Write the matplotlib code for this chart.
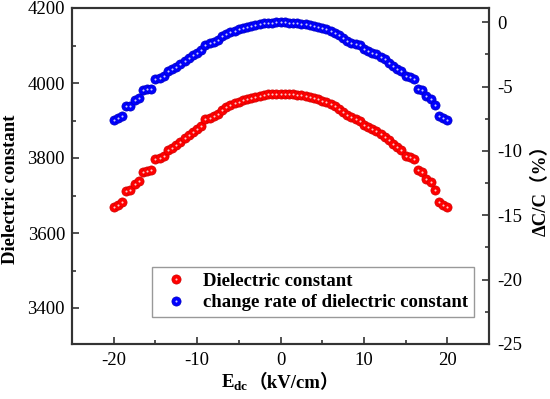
import matplotlib
matplotlib.use("Agg")
import matplotlib.pyplot as plt
from matplotlib.lines import Line2D
from matplotlib.ticker import MultipleLocator

plt.rcParams['font.family'] = ['Liberation Serif', 'Noto Sans CJK SC']
plt.rcParams['mathtext.fontset'] = 'custom'
plt.rcParams['mathtext.rm'] = 'Liberation Serif'
plt.rcParams['mathtext.bf'] = 'Liberation Serif:bold'
plt.rcParams['axes.unicode_minus'] = False

# ---- data ----
field = [x * 0.5 for x in range(-40, 41)]  # kV/cm, -20 .. 20

dielectric = [
    3669, 3675, 3682, 3713, 3714, 3731, 3739, 3762, 3765, 3767,
    3797, 3801, 3805, 3821, 3827, 3835, 3842, 3853, 3861, 3870,
    3877, 3886, 3903, 3907, 3912, 3917, 3928, 3935, 3941, 3946,
    3950, 3954, 3957, 3961, 3964, 3966, 3968, 3970, 3971, 3972,
    3972,
    3972, 3971, 3970, 3969, 3967, 3965, 3963, 3960, 3957, 3953,
    3950, 3945, 3939, 3931, 3922, 3914, 3909, 3905, 3900, 3888,
    3884, 3877, 3873, 3863, 3857, 3847, 3838, 3829, 3822, 3806,
    3802, 3797, 3767, 3764, 3744, 3735, 3715, 3682, 3676, 3669,
]

change_rate = [
    -7.63, -7.48, -7.30, -6.52, -6.50, -6.07, -5.87, -5.29, -5.21, -5.16,
    -4.41, -4.31, -4.20, -3.80, -3.65, -3.45, -3.27, -3.00, -2.79, -2.57,
    -2.39, -2.17, -1.74, -1.64, -1.51, -1.38, -1.11, -0.93, -0.78, -0.65,
    -0.55, -0.45, -0.38, -0.28, -0.20, -0.15, -0.10, -0.05, -0.03, 0.00,
    0.00,
    0.00, -0.03, -0.05, -0.08, -0.13, -0.18, -0.23, -0.30, -0.38, -0.48,
    -0.55, -0.68, -0.83, -1.03, -1.26, -1.46, -1.59, -1.69, -1.81, -2.11,
    -2.22, -2.39, -2.49, -2.74, -2.90, -3.15, -3.37, -3.60, -3.78, -4.18,
    -4.28, -4.41, -5.16, -5.24, -5.74, -5.97, -6.47, -7.30, -7.45, -7.63,
]

label_left = "Dielectric constant"
label_right = "ΔC/C（%）"
xlabel_var = r'$\mathbf{E}_{\mathbf{dc}}$'
xlabel_unit = '（kV/cm）'
legend_labels = ["Dielectric constant", "change rate of dielectric constant"]

# ---- figure ----
W, H = 550, 399
fig = plt.figure(figsize=(5.5, 3.99), dpi=100)
ax = fig.add_axes([72/W, 1-344/H, (489-72)/W, (344-8)/H])
ax2 = ax.twinx()

spine_col = '#333333'
ms = 6.6
hl = 1.5

def sphere(a, x, y, col, edge):
    a.plot(x, y, 'o', ms=ms, color=col, mec=edge, mew=0.5, ls='none', zorder=3)
    a.plot(x, y, 'o', ms=hl, color='white', mec='none', ls='none', alpha=0.8, zorder=4)

sphere(ax, field, dielectric, '#ff0000', '#d00000')
sphere(ax2, field, change_rate, '#0000ff', '#0000c0')

ax.set_xlim(-25, 25)
ax.set_ylim(3304, 4200)
ax2.set_ylim(-25, 1.1)

ax.xaxis.set_major_locator(MultipleLocator(10))
ax.xaxis.set_minor_locator(MultipleLocator(5))
ax.yaxis.set_major_locator(MultipleLocator(200))
ax.yaxis.set_minor_locator(MultipleLocator(100))
ax2.yaxis.set_major_locator(MultipleLocator(5))
ax2.yaxis.set_minor_locator(MultipleLocator(2.5))

fs = 13.5
for a in (ax, ax2):
    a.tick_params(which='both', direction='in', colors=spine_col, labelcolor='black',
                  labelsize=fs, width=1.2)
    a.tick_params(which='major', length=5)
    a.tick_params(which='minor', length=3)
    for s in a.spines.values():
        s.set_color(spine_col)
        s.set_linewidth(1.5)
ax.tick_params(axis='x', which='both', top=False, pad=6)
ax.tick_params(axis='y', which='both', right=False, pad=5)
ax2.tick_params(axis='y', which='both', left=False, pad=6)

ax.set_ylabel(label_left, fontsize=fs, fontweight='bold')
ax.yaxis.set_label_coords((19 - 72) / (489 - 72), (344 - 189) / 336)
ax2.set_ylabel(label_right, fontsize=fs, fontweight='bold')
ax2.yaxis.set_label_coords((532 - 72) / (489 - 72), (344 - 186) / 336)

# x label: E_dc（kV/cm）, two pieces centred under the axes
base_y = 1 - 388/H
t1 = fig.text(0.4, base_y, xlabel_var, fontsize=fs, va='baseline', ha='left')
t2 = fig.text(0.5, base_y, xlabel_unit, fontsize=fs, fontweight='bold', va='baseline', ha='left')
fig.canvas.draw()
r = fig.canvas.get_renderer()
w1 = t1.get_window_extent(r).width
w2 = t2.get_window_extent(r).width
gap = 0
x0 = 280 - (w1 + gap + w2) / 2
t1.set_x(x0 / W)
t2.set_x((x0 + w1 + gap) / W)

h1 = (Line2D([], [], marker='o', ms=ms, color='#ff0000', mec='#d00000', mew=0.5, ls='none'),
      Line2D([], [], marker='o', ms=hl, color='white', mec='none', ls='none', alpha=0.8))
h2 = (Line2D([], [], marker='o', ms=ms, color='#0000ff', mec='#0000c0', mew=0.5, ls='none'),
      Line2D([], [], marker='o', ms=hl, color='white', mec='none', ls='none', alpha=0.8))
leg = ax.legend([h1, h2], legend_labels, loc='lower right',
                bbox_to_anchor=(474/W, 1-317/H), bbox_transform=fig.transFigure,
                frameon=True, fancybox=False, edgecolor='#999999', framealpha=1,
                prop={'size': fs, 'weight': 'bold'}, handletextpad=0.45,
                borderpad=0.3, labelspacing=0.25, handlelength=2.0, borderaxespad=0)
leg.get_frame().set_linewidth(1.0)

fig.savefig('out.png', dpi=100)
